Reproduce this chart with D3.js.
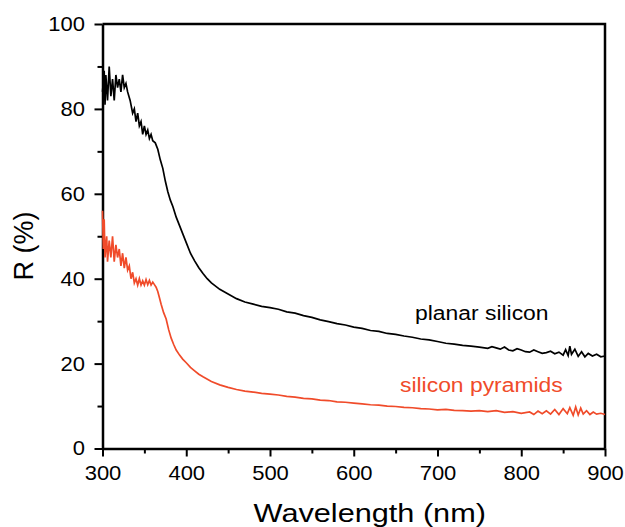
<!DOCTYPE html>
<html>
<head>
<meta charset="utf-8">
<script src="https://cdn.jsdelivr.net/npm/d3@7"></script>
<style>
  body { margin: 0; background: #fff; }
  text { font-family: "Liberation Sans", Arial, sans-serif; }
</style>
</head>
<body>
<div id="chart"></div>
<script>
// reflectance spectra
var planarWl = [300,302,303,304,306,308,310,312,314,316,318,320,322,324,326,328,330,333,336,338,340,342,344,346,348,350,352,354,356,358,360,363,366,369,372,375,378,381,384,388,392,396,400,405,410,415,420,425,430,440,450,460,470,480,490,500,510,520,530,540,550,560,570,580,590,600,610,620,630,640,650,660,670,680,690,700,710,720,730,740,750,760,765,770,775,780,785,790,795,800,805,810,815,820,825,830,835,840,845,850,853,856,858,860,864,868,872,876,880,885,890,895,900];
var planarR = [84,89,81,88,82,90,83,87,82,88,85,87,84,88,85,86,84,82,79,80,77,79,76,77,74,76,74,75,73,74,72.5,72,70.5,68,66,63,60.5,58.5,57,54.5,52.5,50.5,48.5,46,44.2,42.6,41.2,40,39,37.5,36.4,35.3,34.5,34,33.5,33.2,32.8,32.2,31.9,31.3,30.9,30.3,29.9,29.4,29.1,28.6,28.3,27.8,27.6,27.1,26.9,26.5,26.2,25.8,25.6,25.2,24.8,24.6,24.3,24.1,23.9,23.6,24.0,23.7,23.4,23.9,23.2,23.0,23.5,23.2,22.8,22.7,23.2,22.8,22.4,22.6,22.9,22.3,22.7,22.0,23.3,21.9,24.1,22.2,23.4,21.7,22.8,21.6,22.4,21.8,22.2,21.6,21.8,21.3];

var pyramidWl = [300,301,302,303,305,306,308,310,312,314,316,318,320,322,324,326,328,330,332,334,336,338,340,342,344,346,348,350,352,354,356,358,360,362,364,366,368,370,373,376,379,382,385,388,392,396,400,405,410,415,420,430,440,450,460,470,480,490,500,510,520,530,540,550,560,570,580,590,600,610,620,630,640,650,660,670,680,690,700,710,720,730,740,750,760,770,780,790,800,810,815,820,825,830,835,840,845,850,855,858,862,865,868,871,874,878,882,886,890,895,900];
var pyramidR = [56,47,54,45,50,44,49,45,50,44,48,45,47,43,46,42.5,45,42,43,40,41.5,39,40,38.5,40,38.5,39.5,38.5,39.8,38.6,39.6,38.5,39.2,38.6,38,37,35.5,34,32,30.5,28,26,24.5,23.2,22,21,20.2,19.1,18.3,17.5,16.9,15.8,15,14.4,13.9,13.5,13.3,13.0,12.8,12.6,12.3,12.1,11.8,11.7,11.4,11.3,11.0,10.9,10.7,10.5,10.3,10.2,10.0,9.9,9.7,9.6,9.4,9.3,9.1,9.2,9.0,8.9,8.8,8.9,8.7,8.9,8.5,8.7,8.3,8.6,8.0,8.8,8.2,8.9,8.1,9.2,8.0,9.4,8.2,9.6,7.8,9.8,7.9,9.5,8.1,8.9,8.0,8.6,8.1,8.3,8.0];

var xTicks = [300,400,500,600,700,800,900];
var yTicks = [0,20,40,60,80,100];
var xMinor = [350,450,550,650,750,850];
var yMinor = [10,30,50,70,90];

var width = 625, height = 527;
var mLeft = 102.5, mRight = 605, mTop = 24, mBottom = 448.5;
var red = "#f04b2a";

var svg = d3.select("#chart").append("svg")
    .attr("width", width)
    .attr("height", height);

var x = d3.scaleLinear().domain([300, 900]).range([mLeft, mRight]);
var y = d3.scaleLinear().domain([0, 100]).range([mBottom, mTop]);

// frame top + right
svg.append("path")
    .attr("d", "M" + mLeft + "," + mTop + "H" + mRight + "V" + mBottom)
    .attr("fill", "none")
    .attr("stroke", "#000")
    .attr("stroke-width", 2.5);

//minor ticks, no labels
svg.append("g")
    .attr("transform", "translate(0," + mBottom + ")")
    .call(d3.axisBottom(x).tickValues(xMinor).tickSize(5).tickFormat(""))
    .call(function(g){ g.select(".domain").remove(); })
    .selectAll("line").attr("stroke-width", 2);
svg.append("g")
    .attr("transform", "translate(" + mLeft + ",0)")
    .call(d3.axisLeft(y).tickValues(yMinor).tickSize(5).tickFormat(""))
    .call(function(g){ g.select(".domain").remove(); })
    .selectAll("line").attr("stroke-width", 2);

var xAxis = svg.append("g")
    .attr("transform", "translate(0," + mBottom + ")")
    .call(d3.axisBottom(x).tickValues(xTicks).tickSize(8).tickSizeOuter(0).tickPadding(9));
var yAxis = svg.append("g")
    .attr("transform", "translate(" + mLeft + ",0)")
    .call(d3.axisLeft(y).tickValues(yTicks).tickSize(8).tickSizeOuter(0).tickPadding(8));

[xAxis, yAxis].forEach(function(g){
    g.select(".domain").attr("stroke-width", 2.5);
    g.selectAll(".tick line").attr("stroke-width", 2);
    g.selectAll(".tick text")
        .attr("fill", "#000")
        .style("font-size", "20px")
        .attr("transform", "scale(1.1,1)");
});

var line = d3.line()
    .x(function(d){ return x(d[0]); })
    .y(function(d){ return y(d[1]); });

svg.append("path")
    .datum(planarWl.map(function(w, i){ return [w, planarR[i]]; }))
    .attr("d", line)
    .attr("fill", "none")
    .attr("stroke", "#000")
    .attr("stroke-width", 1.7);

svg.append("path")
    .datum(pyramidWl.map(function(w, i){ return [w, pyramidR[i]]; }))
    .attr("d", line)
    .attr("fill", "none")
    .attr("stroke", red)
    .attr("stroke-width", 1.7);

// series labels
function label(txt, px, py, col, size, sx){
    svg.append("g")
        .attr("transform", "translate(" + px + "," + py + ") scale(" + sx + ",1)")
        .append("text")
        .text(txt)
        .attr("fill", col)
        .style("font-size", size + "px");
}
label("planar silicon", 415, 320, "#000", 21, 1.09);
label("silicon pyramids", 400, 392, red, 21, 1.09);

// axis titles
svg.append("g")
    .attr("transform", "translate(" + ((mLeft + mRight) / 2 + 16) + ",522) scale(1.18,1)")
    .append("text")
    .attr("text-anchor", "middle")
    .style("font-size", "26px")
    .text("Wavelength (nm)");

svg.append("text")
    .attr("transform", "translate(33,246) rotate(-90)")
    .attr("text-anchor", "middle")
    .style("font-size", "27px")
    .text("R (%)");
</script>
</body>
</html>
